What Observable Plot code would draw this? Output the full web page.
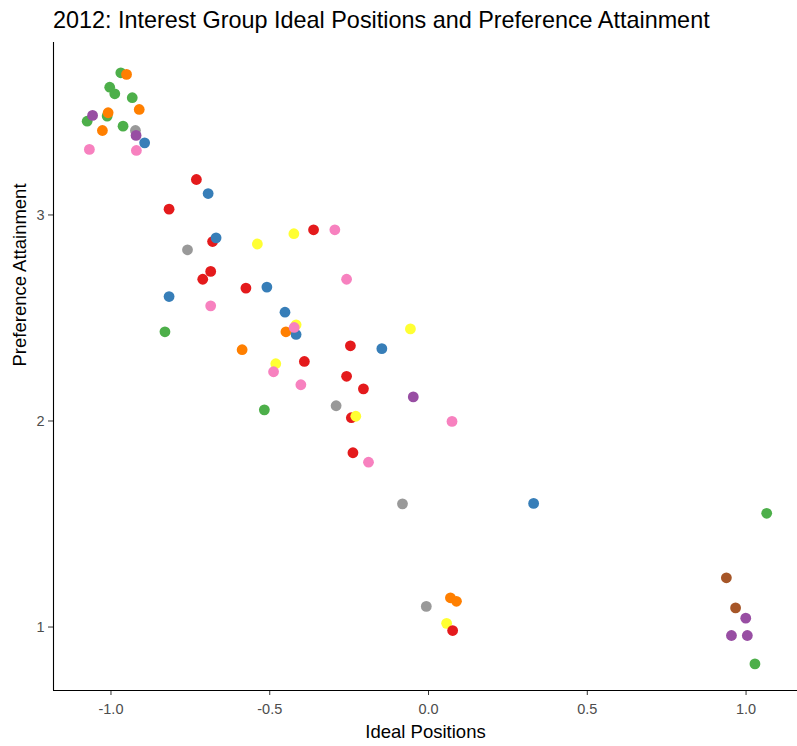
<!DOCTYPE html>
<html>
<head>
<meta charset="utf-8">
<script src="https://cdn.jsdelivr.net/npm/d3@7"></script>
<script src="https://cdn.jsdelivr.net/npm/@observablehq/plot@0.6"></script>
<style>
  body { margin: 0; background: white; }
  #wrap { width: 797px; font-family: "Liberation Sans", Arial, sans-serif; }
  #title { height: 40px; line-height: 41px; padding-left: 53px; font-size: 23.4px; color: #000; white-space: nowrap; }
</style>
</head>
<body>
<div id="wrap">
  <div id="title">2012: Interest Group Ideal Positions and Preference Attainment</div>
  <div id="chart"></div>
</div>
<script>
// Group categories (Set1 order: red, blue, green, purple, orange, yellow, brown, pink, grey)
const groups = ["G1", "G2", "G3", "G4", "G5", "G6", "G7", "G8", "G9"];

// Ideal positions (x)
const idealPositions = [
  -0.969, -0.951, -1.004, -0.988, -0.933, -0.911, -1.012, -1.009, -1.075, -1.058,
  -1.027, -0.962, -0.923, -0.921, -0.894, -1.068, -0.920,
  -0.731, -0.694, -0.817, -0.680, -0.669, -0.759, -0.539, -0.424, -0.362, -0.295,
  -0.686, -0.711, -0.575, -0.509, -0.258, -0.817, -0.686, -0.452, -0.830,
  -0.417, -0.417, -0.449, -0.423, -0.057, -0.587, -0.246, -0.147,
  -0.481, -0.488, -0.391, -0.402, -0.258, -0.205, -0.048, -0.291, -0.517,
  -0.243, -0.229, 0.074, -0.238, -0.189, -0.082, 0.331,
  -0.007, 0.069, 0.088, 0.057, 0.076,
  1.065, 0.938, 0.967, 0.999, 0.954, 1.004, 1.028
];

// Preference attainment (y)
const preferenceAttainment = [
  3.690, 3.682, 3.620, 3.588, 3.569, 3.512, 3.480, 3.496, 3.455, 3.483,
  3.410, 3.431, 3.410, 3.386, 3.350, 3.318, 3.313,
  3.172, 3.104, 3.028, 2.871, 2.889, 2.831, 2.859, 2.909, 2.928, 2.928,
  2.726, 2.688, 2.645, 2.650, 2.688, 2.604, 2.559, 2.528, 2.433,
  2.467, 2.420, 2.433, 2.454, 2.447, 2.346, 2.365, 2.351,
  2.278, 2.239, 2.289, 2.176, 2.217, 2.156, 2.117, 2.074, 2.054,
  2.016, 2.023, 1.998, 1.846, 1.800, 1.598, 1.600,
  1.100, 1.142, 1.125, 1.018, 0.983,
  1.552, 1.239, 1.093, 1.043, 0.959, 0.959, 0.821
];

// Group of each point (index into groups)
const groupIndex = [
  2, 4, 2, 2, 2, 4, 2, 4, 2, 3,
  4, 2, 8, 3, 1, 7, 7,
  0, 1, 0, 0, 1, 8, 5, 5, 0, 7,
  0, 0, 0, 1, 7, 1, 7, 1, 2,
  5, 1, 4, 7, 5, 4, 0, 1,
  5, 7, 0, 7, 0, 0, 3, 8, 2,
  0, 5, 7, 0, 7, 8, 1,
  8, 4, 4, 5, 0,
  2, 6, 6, 3, 3, 3, 2
];

const xTicks = [-1.0, -0.5, 0.0, 0.5, 1.0];
const yTicks = [1, 2, 3];
const xDomain = [-1.181, 1.162];
const yDomain = [0.692, 3.837];

const data = idealPositions.map((x, i) => ({
  x, y: preferenceAttainment[i], group: groups[groupIndex[i]]
}));

const chart = Plot.plot({
  width: 797,
  height: 706,
  marginTop: 2,
  marginBottom: 56,
  marginLeft: 53,
  marginRight: 0,
  style: { fontFamily: "Liberation Sans, Arial, sans-serif", background: "white" },
  x: { domain: xDomain, label: null },
  y: { domain: yDomain, label: null },
  color: { domain: groups, scheme: "set1" },
  marks: [
    Plot.axisX({ ticks: xTicks, tickFormat: d => d.toFixed(1), tickSize: 5, tickPadding: 8,
                 fontSize: 14.5, fill: "#4d4d4d", stroke: "#333", label: null }),
    Plot.axisY({ ticks: yTicks, tickFormat: d => String(d), tickSize: 5, tickPadding: 4,
                 fontSize: 14.5, fill: "#4d4d4d", stroke: "#333", label: null }),
    Plot.ruleY([yDomain[0]], { stroke: "#000", strokeWidth: 1.1 }),
    Plot.ruleX([xDomain[0]], { stroke: "#000", strokeWidth: 1.1 }),
    Plot.dot(data, { x: "x", y: "y", fill: "group", r: 5.4, stroke: "none" }),
    Plot.text(["Ideal Positions"], { frameAnchor: "bottom", dy: 47, fontSize: 18.5, fill: "#000" }),
    Plot.text(["Preference Attainment"], { frameAnchor: "left", dx: -33, rotate: -90, fontSize: 18.5, fill: "#000" })
  ]
});

document.getElementById("chart").appendChild(chart);
</script>
</body>
</html>
